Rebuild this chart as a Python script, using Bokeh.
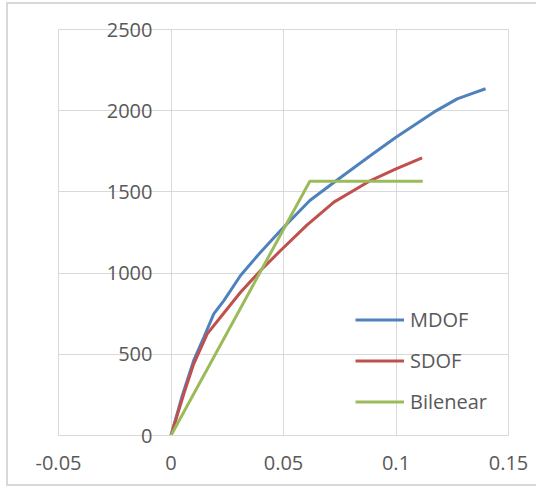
from bokeh.plotting import figure
from bokeh.models import FixedTicker, NumeralTickFormatter, Legend, LegendItem
from bokeh.embed import file_html
from bokeh.resources import INLINE

# Data
mdof_x = [0, 0.005, 0.0101, 0.0146, 0.019, 0.0235, 0.0309, 0.0398, 0.0487, 0.0617,
          0.0731, 0.0887, 0.1, 0.1168, 0.1272, 0.134, 0.1398]
mdof_y = [0, 245, 462, 605, 749, 831, 985, 1129, 1262, 1447,
          1566, 1724, 1837, 1991, 2073, 2107, 2135]

sdof_x = [0, 0.0057, 0.0101, 0.0161, 0.022, 0.0309, 0.0398, 0.0487, 0.0604,
          0.0724, 0.0887, 0.1, 0.1116]
sdof_y = [0, 257, 441, 626, 728, 882, 1016, 1139, 1295,
          1437, 1570, 1642, 1710]

bil_x = [0, 0.0617, 0.1119]
bil_y = [0, 1566, 1566]

x_ticks = [-0.05, 0, 0.05, 0.1, 0.15]
y_ticks = [0, 500, 1000, 1500, 2000, 2500]

GRID = "#d9d9d9"
TXT = "#595959"
FONT = "Open Sans"

p = figure(width=530, height=484, output_backend="svg", toolbar_location=None,
           x_range=(-0.05, 0.15), y_range=(0, 2500),
           min_border_left=50, min_border_right=30, min_border_top=25, min_border_bottom=53)
p.styles = {"margin-left": "6px", "margin-top": "2px",
            "border-left": "2px solid #d9d9d9", "border-top": "2px solid #d9d9d9",
            "border-bottom": "2px solid #d9d9d9"}

p.outline_line_color = GRID
p.background_fill_color = "white"
p.border_fill_color = "white"

p.xaxis.ticker = FixedTicker(ticks=x_ticks)
p.yaxis.ticker = FixedTicker(ticks=y_ticks)
p.xgrid.ticker = FixedTicker(ticks=x_ticks)
p.ygrid.ticker = FixedTicker(ticks=y_ticks)
p.xgrid.grid_line_color = GRID
p.ygrid.grid_line_color = GRID

p.xaxis.formatter = NumeralTickFormatter(format="0.[00]")

for ax in (p.xaxis[0], p.yaxis[0]):
    ax.major_tick_in = 0
    ax.major_tick_out = 0
    ax.minor_tick_in = 0
    ax.minor_tick_out = 0
    ax.major_label_text_font = FONT
    ax.major_label_text_font_size = "20px"
    ax.major_label_text_color = TXT

p.xaxis.axis_line_color = GRID
p.yaxis.axis_line_color = None
p.xaxis.major_label_standoff = 20
# y labels sit just left of x = 0, where the axes cross in the reference
p.yaxis.major_label_standoff = -94

r1 = p.line(mdof_x, mdof_y, line_color="#4F81BD", line_width=3)
r2 = p.line(sdof_x, sdof_y, line_color="#C0504D", line_width=3)
r3 = p.line(bil_x, bil_y, line_color="#9BBB59", line_width=3)

legend = Legend(items=[LegendItem(label="MDOF", renderers=[r1]),
                       LegendItem(label="SDOF", renderers=[r2]),
                       LegendItem(label="Bilenear", renderers=[r3])],
                location=(297, 20))
legend.background_fill_alpha = 0
legend.border_line_color = None
legend.padding = 0
legend.margin = 0
legend.glyph_width = 49
legend.glyph_height = 27
legend.label_height = 27
legend.spacing = 14
legend.label_standoff = 6
legend.label_text_font = FONT
legend.label_text_font_size = "20px"
legend.label_text_color = TXT
p.add_layout(legend, "center")

open("out.html", "w").write(file_html(p, INLINE))
